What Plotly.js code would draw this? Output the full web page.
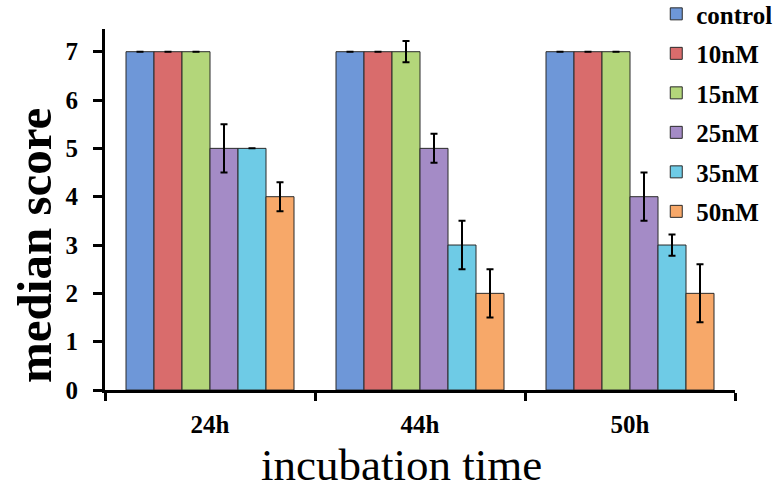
<!DOCTYPE html>
<html>
<head>
<meta charset="utf-8">
<script src="https://cdn.plot.ly/plotly-3.0.1.min.js"></script>
<style>body{margin:0;padding:0;background:#fff;} #chart{width:784px;height:491px;}</style>
</head>
<body>
<div id="chart"></div>
<script>
const categories = ["24h", "44h", "50h"];
const seriesNames = ["control", "10nM", "15nM", "25nM", "35nM", "50nM"];
const control = [7, 7, 7];
const nM10 = [7, 7, 7];
const nM15 = [7, 7, 7];
const nM25 = [5, 5, 4];
const nM35 = [5, 3, 3];
const nM50 = [4, 2, 2];
const errControl = [0, 0, 0];
const err10 = [0, 0, 0];
const err15 = [0, 0.22, 0];
const err25 = [0.5, 0.3, 0.5];
const err35 = [0, 0.5, 0.22];
const err50 = [0.3, 0.5, 0.6];
const colors = ["#6e97d8", "#d96c6c", "#b3d67a", "#a48bc6", "#6ecbe6", "#f7a869"];
const xTitle = "incubation time";
const yTitle = "median score";

const values = [control, nM10, nM15, nM25, nM35, nM50];
const errs = [errControl, err10, err15, err25, err35, err50];

const traces = seriesNames.map((name, i) => ({
  type: "bar",
  name: name,
  x: categories,
  y: values[i],
  legendgroup: "g" + i,
  marker: {color: colors[i], line: {color: "#2a2a2a", width: 1}},
  error_y: {type: "data", array: errs[i], visible: true, color: "#000", thickness: 2, width: 3.5}
}));

const serif = "Liberation Serif, Times New Roman, serif";
const layout = {
  width: 784, height: 491,
  margin: {l: 105, r: 49, t: 29, b: 101, autoexpand: false},
  paper_bgcolor: "#fff", plot_bgcolor: "#fff",
  barmode: "group",
  bargap: 0.2, bargroupgap: 0,
  font: {family: serif, color: "#000"},
  xaxis: {
    type: "category",
    tickson: "boundaries",
    ticks: "outside", ticklen: 8, tickwidth: 3, tickcolor: "#000",
    showline: true, linecolor: "#000", linewidth: 3,
    showgrid: false, zeroline: false,
    ticklabelstandoff: 10,
    tickfont: {family: serif, size: 25, color: "#000", weight: "bold"}
  },
  yaxis: {
    range: [0, 7.47],
    tickvals: [0, 1, 2, 3, 4, 5, 6, 7],
    ticks: "outside", ticklen: 9, tickwidth: 3, tickcolor: "#000",
    showline: true, linecolor: "#000", linewidth: 3,
    showgrid: false, zeroline: false,
    ticklabelstandoff: 10,
    tickfont: {family: serif, size: 25, color: "#000", weight: "bold"}
  },
  annotations: [
    {xref: "paper", yref: "paper", x: -0.112, y: 0.4, xanchor: "center", yanchor: "middle",
     textangle: -90, showarrow: false, text: yTitle,
     font: {family: serif, size: 49, color: "#000", weight: "bold"}},
    {xref: "paper", yref: "paper", x: 0.471, y: -0.207, xanchor: "center", yanchor: "middle",
     showarrow: false, text: xTitle,
     font: {family: serif, size: 45, color: "#000"}}
  ],
  legend: {
    x: 0.875, y: 1.105, xanchor: "left", yanchor: "top",
    traceorder: "grouped", tracegroupgap: 4,
    bgcolor: "rgba(255,255,255,0)",
    font: {family: serif, size: 25, color: "#000", weight: "bold"},
    itemwidth: 30
  },
  showlegend: true
};

Plotly.newPlot("chart", traces, layout, {staticPlot: true, displayModeBar: false});
</script>
</body>
</html>
